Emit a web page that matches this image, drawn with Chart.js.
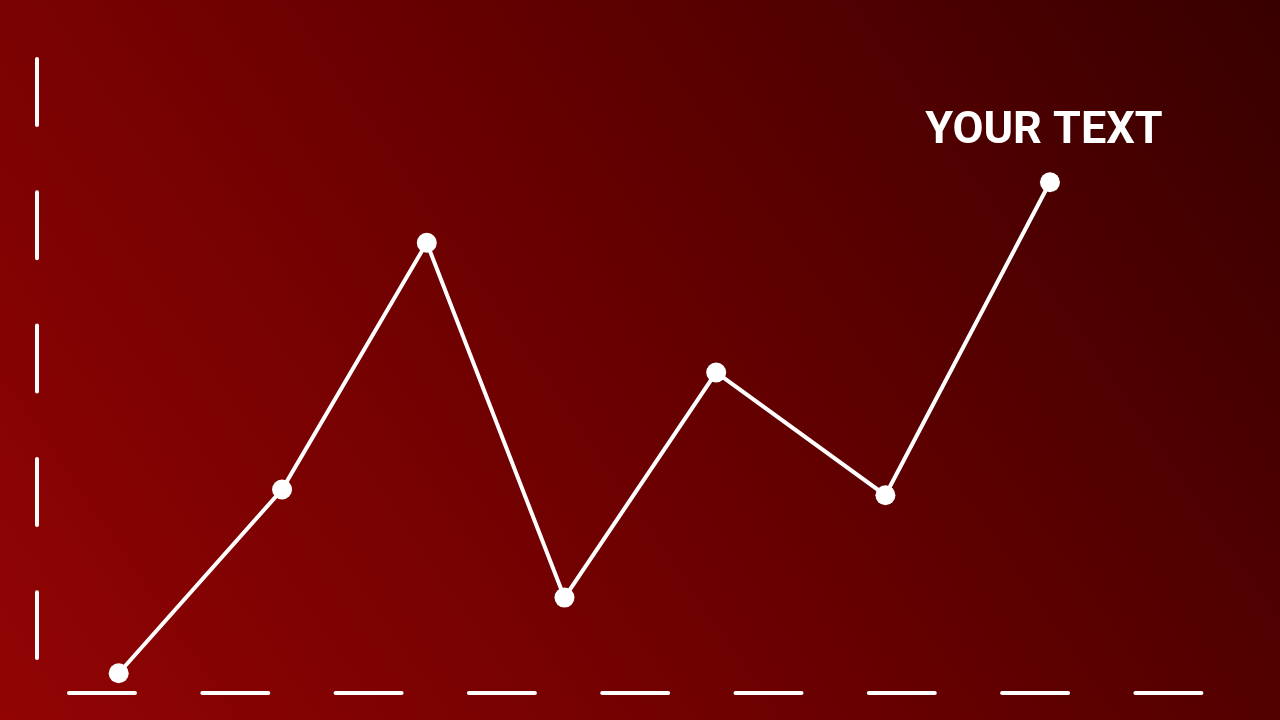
<!DOCTYPE html>
<html>
<head>
<meta charset="utf-8">
<title>Line chart</title>
<script src="https://cdn.jsdelivr.net/npm/chart.js@4.4.1/dist/chart.umd.min.js"></script>
<style>
    html, body { margin: 0; padding: 0; background: #5a0000; }
    #lineChart { display: block; }
</style>
</head>
<body>
<canvas id="lineChart" width="1280" height="720"></canvas>
<script>
// values (x and y both on a 0..100 scale)
const xPositions = [7.0, 21.0, 33.4, 45.2, 58.2, 72.7, 86.8];
const values = [3.1, 32.0, 70.8, 15.0, 50.4, 31.1, 80.3];
const pointLabels = ['', '', '', '', '', '', 'YOUR TEXT'];

// red gradient behind everything
const backgroundPlugin = {
    id: 'redBackground',
    beforeDraw(chart) {
        const ctx = chart.ctx;
        const w = chart.width, h = chart.height;
        const grad = ctx.createLinearGradient(0, h, w * 0.94, -h * 0.15);
        grad.addColorStop(0, 'rgb(146,4,4)');
        grad.addColorStop(0.5, 'rgb(104,0,0)');
        grad.addColorStop(1, 'rgb(56,0,0)');
        ctx.save();
        ctx.fillStyle = grad;
        ctx.fillRect(0, 0, w, h);
        ctx.restore();
    }
};

// dashed white axes drawn along the chart area edges
const dashedAxesPlugin = {
    id: 'dashedAxes',
    beforeDatasetsDraw(chart) {
        const { ctx, chartArea } = chart;
        ctx.save();
        ctx.strokeStyle = '#ffffff';
        ctx.lineWidth = 4;
        ctx.lineCap = 'round';
        ctx.setLineDash([66, 67.3]);

        ctx.beginPath();
        ctx.moveTo(chartArea.left, chartArea.top + 2);
        ctx.lineTo(chartArea.left, chartArea.bottom - 35);
        ctx.stroke();

        ctx.beginPath();
        ctx.moveTo(chartArea.left + 32, chartArea.bottom);
        ctx.lineTo(chartArea.right, chartArea.bottom);
        ctx.stroke();
        ctx.restore();
    }
};

// text above the point that has a label
const pointLabelPlugin = {
    id: 'pointLabel',
    afterDatasetsDraw(chart) {
        const ctx = chart.ctx;
        const meta = chart.getDatasetMeta(0);
        ctx.save();
        ctx.fillStyle = '#ffffff';
        ctx.font = 'bold 45px Roboto, "Noto Sans", sans-serif';
        ctx.textAlign = 'center';
        ctx.textBaseline = 'alphabetic';
        meta.data.forEach((pt, i) => {
            if (pointLabels[i]) {
                ctx.fillText(pointLabels[i], pt.x - 6, pt.y - 39);
            }
        });
        ctx.restore();
    }
};

new Chart(document.getElementById('lineChart'), {
    type: 'line',
    data: {
        datasets: [{
            data: xPositions.map((x, i) => ({ x: x, y: values[i] })),
            borderColor: '#ffffff',
            borderWidth: 4,
            pointRadius: 10,
            pointHoverRadius: 10,
            pointBackgroundColor: '#ffffff',
            pointBorderWidth: 0,
            tension: 0,
            fill: false,
            clip: false
        }]
    },
    options: {
        responsive: false,
        animation: false,
        devicePixelRatio: 1,
        layout: {
            padding: { left: 37, right: 76, top: 57, bottom: 27 }
        },
        plugins: {
            legend: { display: false },
            tooltip: { enabled: false }
        },
        scales: {
            x: { type: 'linear', min: 0, max: 100, display: false },
            y: { type: 'linear', min: 0, max: 100, display: false }
        }
    },
    plugins: [backgroundPlugin, dashedAxesPlugin, pointLabelPlugin]
});
</script>
</body>
</html>
